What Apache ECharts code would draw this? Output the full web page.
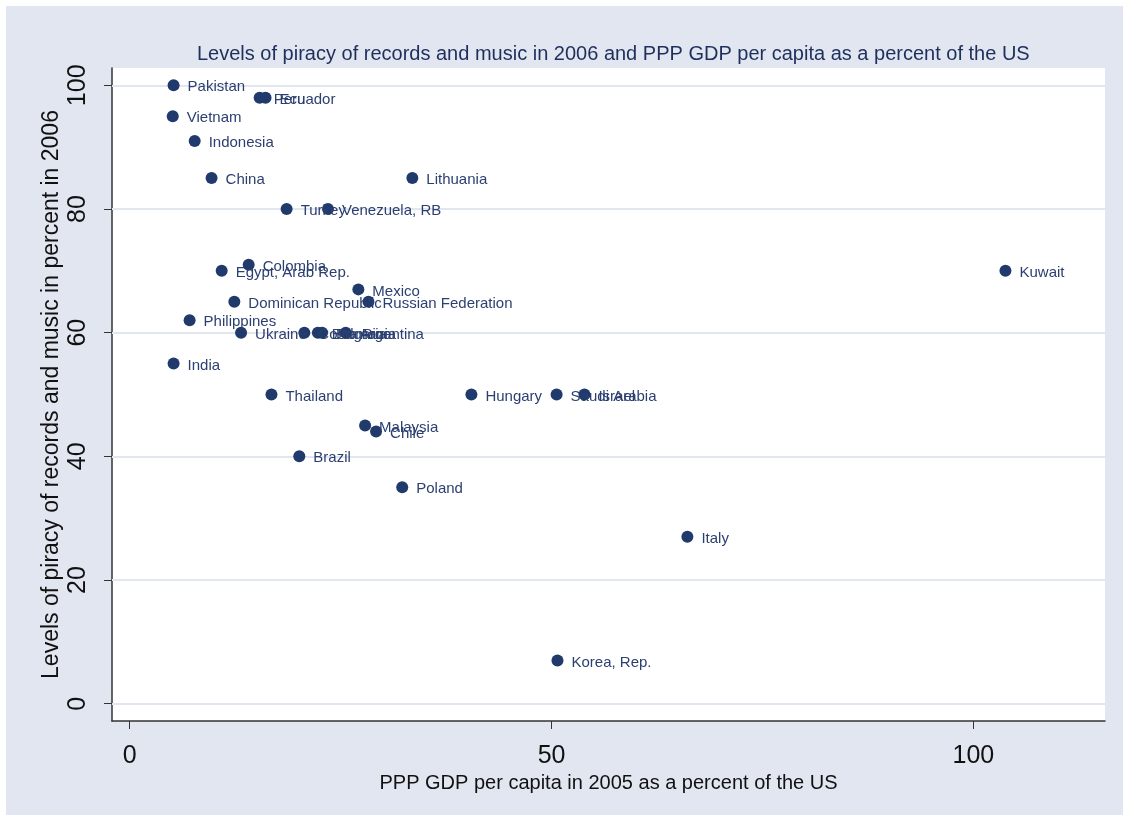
<!DOCTYPE html>
<html>
<head>
<meta charset="utf-8">
<script src="https://cdn.jsdelivr.net/npm/echarts@6/dist/echarts.min.js"></script>
<style>
  html, body { margin: 0; padding: 0; background: #fff; }
  #grafico { width: 1123px; height: 822px; }
</style>
</head>
<body>
<div id="grafico"></div>
<script>
// Dados
const paises = ["Pakistan", "Vietnam", "Indonesia", "China", "Peru", "Ecuador", "Lithuania",
    "Turkey", "Venezuela, RB", "Kuwait", "Colombia", "Egypt, Arab Rep.", "Mexico",
    "Dominican Republic", "Russian Federation", "Philippines", "Ukraine", "Costa Rica",
    "Bulgaria", "Romania", "Argentina", "India", "Thailand", "Hungary", "Saudi Arabia",
    "Israel", "Malaysia", "Chile", "Brazil", "Poland", "Italy", "Korea, Rep."];
const pib = [5.2, 5.1, 7.7, 9.7, 15.4, 16.1, 33.5,
    18.6, 23.5, 103.8, 14.1, 10.9, 27.1,
    12.4, 28.3, 7.1, 13.2, 20.7,
    22.3, 22.8, 25.6, 5.2, 16.8, 40.5, 50.6,
    53.9, 27.9, 29.2, 20.1, 32.3, 66.1, 50.7];
const pirataria = [100, 95, 91, 85, 98, 98, 85,
    80, 80, 70, 71, 70, 67,
    65, 65, 62, 60, 60,
    60, 60, 60, 55, 50, 50, 50,
    50, 45, 44, 40, 35, 27, 7];
const ticksX = [0, 50, 100];
const ticksY = [0, 20, 40, 60, 80, 100];

var chartDom = document.getElementById('grafico');
var myChart = echarts.init(chartDom);
var navy = '#1f3a6b';
var option = {
    backgroundColor: '#fff',
    animation: false,
    graphic: [
        {
            type: 'rect',
            shape: { x: 6, y: 6, width: 1117, height: 809 },
            style: { fill: '#e1e6f0' },
            z: -10
        }
    ],
    title: {
        text: 'Levels of piracy of records and music in 2006 and PPP GDP per capita as a percent of the US',
        left: 192,
        top: 39,
        textStyle: {
            color: '#1e2f5c',
            fontSize: 20,
            fontWeight: 'normal',
            fontFamily: 'Liberation Sans'
        }
    },
    grid: {
        left: 112,
        top: 68,
        right: 18,
        bottom: 101,
        show: true,
        backgroundColor: '#fff',
        borderWidth: 0
    },
    xAxis: {
        type: 'value',
        min: -2.1,
        max: 115.6,
        name: 'PPP GDP per capita in 2005 as a percent of the US',
        nameLocation: 'middle',
        nameGap: 51,
        nameTextStyle: { color: '#111', fontSize: 20, fontFamily: 'Liberation Sans' },
        axisLine: { onZero: false, lineStyle: { color: '#333', width: 1.5 } },
        axisTick: { show: true, length: 8, customValues: ticksX, lineStyle: { color: '#333' } },
        axisLabel: { customValues: ticksX, color: '#111', fontSize: 25, margin: 23, fontFamily: 'Liberation Sans' },
        splitLine: { show: false }
    },
    yAxis: {
        type: 'value',
        min: -2.8,
        max: 102.8,
        name: 'Levels of piracy of records and music in percent in 2006',
        nameLocation: 'middle',
        nameRotate: 90,
        nameGap: 49,
        nameMoveOverlap: false,
        nameTextStyle: { color: '#111', fontSize: 23, fontFamily: 'Liberation Sans' },
        axisLine: { show: true, onZero: false, lineStyle: { color: '#333', width: 1.5 } },
        axisTick: { show: true, length: 8, customValues: ticksY, lineStyle: { color: '#333' } },
        axisLabel: { customValues: ticksY, rotate: 90, color: '#111', fontSize: 25, margin: 21, fontFamily: 'Liberation Sans' },
        splitLine: { show: false }
    },
    series: [
        {
            name: 'Pirataria',
            type: 'scatter',
            symbolSize: 12,
            itemStyle: { color: navy, opacity: 1 },
            label: {
                show: true,
                position: 'right',
                distance: 8,
                offset: [0, 2],
                color: '#2b3f70',
                fontSize: 15,
                fontFamily: 'Liberation Sans',
                formatter: function (p) { return paises[p.dataIndex]; }
            },
            markLine: {
                silent: true,
                symbol: 'none',
                label: { show: false },
                lineStyle: { color: '#e1e6f0', width: 2, type: 'solid' },
                data: ticksY.map(function (v) { return { yAxis: v }; }),
                z: 1
            },
            data: pib.map(function (v, i) { return [v, pirataria[i]]; }),
            z: 3
        }
    ]
};

option && myChart.setOption(option);
</script>
</body>
</html>
